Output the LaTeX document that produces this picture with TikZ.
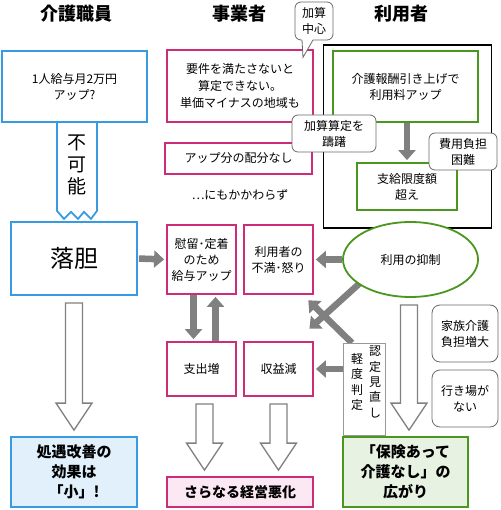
\documentclass[tikz,border=0pt]{standalone}
\usepackage{fontspec}
\setmainfont{Noto Sans CJK JP}
\usetikzlibrary{arrows.meta,calc,positioning,shapes.geometric}
\definecolor{KaigoBlue}{RGB}{55,155,225}
\definecolor{KaigoPink}{RGB}{205,45,120}
\definecolor{KaigoGreen}{RGB}{75,150,30}
\definecolor{ArrowGray}{RGB}{128,128,128}
\definecolor{CallGray}{RGB}{105,105,105}
\definecolor{PaleBlue}{RGB}{226,240,252}
\definecolor{PalePink}{RGB}{252,232,242}
\definecolor{PaleGreen}{RGB}{232,242,226}
\newcommand\hollowarr[3][0pt]{%
  \draw[hollowarrow] let \p1=#2, \p2=#3 in
    (\x1+#1-8.5pt,\y1-7pt) -- (\x1+#1+8.5pt,\y1-7pt) -- (\x1+#1+8.5pt,\y2+33pt)
    -- (\x1+#1+18pt,\y2+33pt) -- (\x1+#1,\y2+6pt) -- (\x1+#1-18pt,\y2+33pt)
    -- (\x1+#1-8.5pt,\y2+33pt) -- cycle;}

\begin{document}
\begin{tikzpicture}[x=1pt,y=-1pt,>=Latex,
    kbox/.style={draw,line width=1.8pt,inner sep=0pt,align=center,fill=white,
      font=\fontsize{12}{16}\selectfont},
    bluebox/.style={kbox,draw=KaigoBlue},
    pinkbox/.style={kbox,draw=KaigoPink},
    greenbox/.style={kbox,draw=KaigoGreen},
    boldtext/.style={font=\fontsize{15}{20}\selectfont\bfseries},
    callbox/.style={draw=CallGray,line width=.8pt,rounded corners=6pt,fill=white,
      align=center,inner sep=0pt,font=\fontsize{12}{16}\selectfont},
    fatarrow/.style={draw=ArrowGray,line width=6.5pt,
      -{Triangle[length=10pt,width=17pt]},shorten >=2pt},
    hollowarrow/.style={draw=ArrowGray,line width=1.3pt,fill=white,line join=miter}]
  \useasboundingbox (0,0) rectangle (500,510);
  \foreach \x/\t in {76/介護職員,239/事業者,401/利用者}
    \node[font=\fontsize{18}{20}\selectfont\bfseries] (h\x) at (\x,14) {\t};

  \node[bluebox,minimum width=145pt,minimum height=71pt] (pay) at (74.5,86.5)
    {1人給与月2万円\\アップ?};
  \coordinate (fk) at ([xshift=2.5pt]pay.south);
  \draw[KaigoBlue,line width=1.8pt,line join=miter] ([xshift=-20pt]fk) -- ++(0,88)
    -- ++(7,8) -- ++(7,-7) -- ++(7,7) -- ++(6,-7) -- ++(7,7) -- ++(6,-8)
    -- ([xshift=20pt]fk);
  \node[align=center,font=\fontsize{19}{22}\selectfont] (fukano) at ($(fk)+(0,42)$)
    {不\\可\\能};
  \node[bluebox,minimum width=126pt,minimum height=73pt,font=\fontsize{24}{26}\selectfont]
    (rakutan) at (74,258.5) {落胆};
  \node[bluebox,boldtext,fill=PaleBlue,minimum width=126pt,minimum height=70pt]
    (kouka) at (74,472) {処遇改善の\\効果は\\「小」!};

  \node[pinkbox,minimum width=146pt,minimum height=72pt,font=\fontsize{12}{17}\selectfont]
    (youken) at (240,86) {要件を満たさないと\\算定できない。\\単価マイナスの地域も};
  \node[pinkbox,minimum width=147pt,minimum height=31pt] (haibun) at (238.5,158.5)
    {アップ分の配分なし};
  \node[font=\fontsize{12}{16}\selectfont] (nimo) at (240,195) {⋯にもかかわらず};
  \node[pinkbox,minimum width=69pt,minimum height=69pt] (iryu) at (201.5,259.5)
    {慰留･定着\\のため\\給与アップ};
  \node[pinkbox,minimum width=69pt,minimum height=69pt] (fuman) at (278.5,259.5)
    {利用者の\\不満･怒り};
  \node[pinkbox,minimum width=69pt,minimum height=54pt] (shishutsu) at (201.5,369) {支出増};
  \node[pinkbox,minimum width=69pt,minimum height=54pt] (shueki) at (278.5,369) {収益減};
  \node[pinkbox,fill=PalePink,minimum width=146pt,minimum height=30pt,
    font=\fontsize{14}{16}\selectfont\bfseries] (akka) at (240,492) {さらなる経営悪化};

  \node[draw,line width=1.2pt,minimum width=168pt,minimum height=183pt,inner sep=0pt]
    (frame) at (407.5,136.5) {};
  \node[greenbox,minimum width=145pt,minimum height=71pt] (ryokin) at (405.5,86.5)
    {介護報酬引き上げで\\利用料アップ};
  \node[greenbox,minimum width=100pt,minimum height=47pt] (gendo) at (407,186.5)
    {支給限度額\\超え};

  \draw[fatarrow,shorten <=1pt] (rakutan.east) -- (iryu.west);
  \draw[fatarrow] ([xshift=-8pt]iryu.south) -- ([xshift=-8pt]shishutsu.north);
  \draw[fatarrow] ([xshift=14pt]shishutsu.north) -- ([xshift=14pt]iryu.south);
  \draw[fatarrow] (gendo.north |- ryokin.south) -- (gendo.north);
  \coordinate (kx) at (352,343);
  \draw[fatarrow] (360,283) -- ($(shueki.north east)+(-6,-11)$);
  \draw[fatarrow] (kx) -- ($(fuman.south east)+(-7,4)$);

  \node[ellipse,draw=KaigoGreen,line width=1.8pt,fill=white,inner sep=0pt,
    minimum width=135pt,minimum height=75pt,font=\fontsize{12}{16}\selectfont]
    (yokusei) at (410.5,259.5) {利用の抑制};
  \draw[fatarrow] (yokusei.west |- fuman.east) -- (fuman.east);

  \node[draw=ArrowGray!80,line width=.8pt,fill=white,inner sep=0pt,
    minimum width=42pt,minimum height=92pt] (kei) at (364,389) {};
  \node[align=center,font=\fontsize{12}{15.3}\selectfont] (kei-r) at ($(kei.center)+(11,-7)$)
    {認\\定\\見\\直\\し};
  \node[align=center,font=\fontsize{12}{15.6}\selectfont] (kei-l) at ($(kei.center)+(-7,-7)$)
    {軽\\度\\判\\定};
  \draw[fatarrow] (kei.west |- shueki.east) -- (shueki.east);

  \node[callbox,rounded corners=8pt,minimum width=66pt,minimum height=57pt] (kazoku)
    at (465,333.5) {家族介護\\負担増大};
  \node[callbox,rounded corners=8pt,minimum width=66pt,minimum height=57pt] (ikiba)
    at (465,398.5) {行き場が\\ない};
  \node[greenbox,boldtext,fill=PaleGreen,minimum width=125pt,minimum height=70pt]
    (hoken) at (405.5,472) {「保険あって\\介護なし」の\\広がり};

  \hollowarr{(rakutan.south)}{(kouka.north)}
  \hollowarr[3pt]{(shishutsu.south)}{(akka.north)}
  \hollowarr{(shueki.south)}{(akka.north)}
  \hollowarr[-1.5pt]{(yokusei.south)}{(hoken.north)}

  \node[callbox,minimum width=84pt,minimum height=37pt] (tamerau) at (334,133.5)
    {加算算定を\\躊躇};
  \node[callbox,minimum width=68pt,minimum height=37pt] (futan) at (463,151.5)
    {費用負担\\困難};
  \node[callbox,minimum width=38pt,minimum height=38pt] (kasan) at (314,21)
    {加算\\中心};
  \fill[white] ($(kasan.south)+(-12,-1.5)$) -- ($(kasan.south)+(-11,17)$)
    -- ($(kasan.south)+(-1,-1.5)$) -- cycle;
  \draw[CallGray,line width=.8pt] ($(kasan.south)+(-12,-.4)$) -- ($(kasan.south)+(-11,17)$)
    -- ($(kasan.south)+(-1,-.4)$);
\end{tikzpicture}
\end{document}
